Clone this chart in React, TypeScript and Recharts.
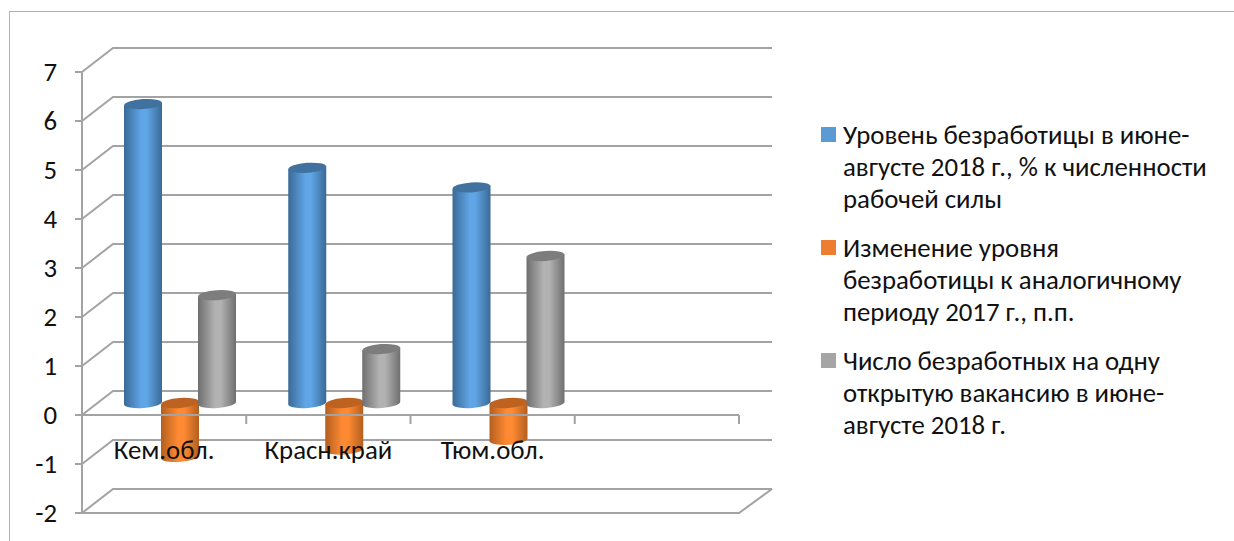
import React from "react";
import { ComposedChart, Bar, XAxis, YAxis, CartesianGrid, ReferenceLine, Legend } from "recharts";

const categories = ["Кем.обл.", "Красн.край", "Тюм.обл.", ""];
const unemployment = [6.1, 4.8, 4.4, null];
const change = [-1.1, -0.95, -0.75, null];
const perVacancy = [2.2, 1.1, 3.0, null];
const yTicks = [-2, -1, 0, 1, 2, 3, 4, 5, 6, 7];
const seriesNames = [
  "Уровень безработицы в июне-\nавгусте 2018 г., % к численности\nрабочей силы",
  "Изменение уровня\nбезработицы к аналогичному\nпериоду 2017 г., п.п.",
  "Число безработных на одну\nоткрытую вакансию в июне-\nавгусте 2018 г.",
];
const seriesColors = ["#5b9bd5", "#ed7d31", "#a5a5a5"];

const rows = categories.map((name, i) => ({
  name,
  unemployment: unemployment[i],
  change: change[i],
  perVacancy: perVacancy[i],
}));

const FONT = "Carlito, Calibri, Lato, 'Open Sans', sans-serif";
const LINE = "#a3a3a3";
const DEPTH_X = 31;
const DEPTH_Y = 24;
const gradients = [
  { id: "cylBlue", edge: "#3a6a96", mid: "#60a5e6", top: "#41729f" },
  { id: "cylOrange", edge: "#b35f1e", mid: "#ff8a33", top: "#bd6220" },
  { id: "cylGray", edge: "#6f6f6f", mid: "#b2b2b2", top: "#7d7d7d" },
];

function Cylinder(props: any) {
  const { x, y, width, height, seriesIndex } = props;
  if (!Number.isFinite(y) || !Number.isFinite(height) || height === 0) return null;
  const g = gradients[seriesIndex];
  const top = Math.min(y, y + height) - DEPTH_Y / 2;
  const bottom = Math.max(y, y + height) - DEPTH_Y / 2;
  const left = x + DEPTH_X / 2 - 0.5;
  const w = width + 1;
  const rx = w / 2;
  const ry = 5;
  const t = 1.5;
  const tilt = -4;
  const cx = left + rx;
  return (
    <g>
      <path
        d={`M${left},${top + t} L${left},${bottom + t} A${rx},${ry} ${tilt} 0 0 ${left + w},${bottom - t} L${left + w},${top - t} Z`}
        fill={`url(#${g.id})`}
      />
      <ellipse cx={cx} cy={top} rx={rx} ry={ry} fill={g.top} transform={`rotate(${tilt} ${cx} ${top})`} />
    </g>
  );
}

function GridLine(props: any) {
  const { x1, x2, y1, index } = props;
  return (
    <g stroke={LINE} strokeWidth={2} fill="none" key={index}>
      <path d={`M${x1},${y1} L${x1 + DEPTH_X},${y1 - DEPTH_Y} L${x2 + DEPTH_X + 2},${y1 - DEPTH_Y}`} />
      {y1 > 500 ? <path d={`M${x1},${y1} L${x2},${y1} L${x2 + DEPTH_X + 2},${y1 - DEPTH_Y}`} /> : null}
    </g>
  );
}

function ZeroAxis(props: any) {
  const { x1, x2, y1, y } = props;
  const left = x1 ?? props.viewBox?.x ?? 82;
  const right = x2 ?? left + (props.viewBox?.width ?? 657);
  const yy = y1 ?? y ?? props.viewBox?.y ?? 414;
  const step = (right - left) / categories.length;
  return (
    <g stroke={LINE} strokeWidth={2} fill="none">
      <path d={`M${left},${yy} L${right},${yy}`} />
      {categories.map((_, i) => (
        <path key={i} d={`M${left + step * (i + 1)},${yy} L${left + step * (i + 1)},${yy + 9}`} />
      ))}
    </g>
  );
}

function CategoryTick(props: any) {
  const { x, y, payload } = props;
  return (
    <text x={x} y={y - 62} textAnchor="middle" fontFamily={FONT} fontSize={26.8} fill="#111">
      {payload.value}
    </text>
  );
}

function YTick(props: any) {
  const { x, y, payload } = props;
  return (
    <text x={x} y={y + 9} textAnchor="end" fontFamily={FONT} fontSize={26.8} fill="#111">
      {payload.value}
    </text>
  );
}

function LegendBox() {
  return (
    <div style={{ fontFamily: FONT, fontSize: 26.8, color: "#111", lineHeight: "32px" }}>
      {seriesNames.map((name, i) => (
        <div key={i} style={{ position: "relative", paddingLeft: 22, marginBottom: i < 2 ? 17 : 0, whiteSpace: "nowrap" }}>
          <span
            style={{ position: "absolute", left: 0, top: 8, width: 15, height: 15, background: seriesColors[i] }}
          />
          {name.split("\n").map((l, j) => (
            <div key={j}>{l}</div>
          ))}
        </div>
      ))}
    </div>
  );
}

export default function App() {
  return (
    <div style={{ position: "fixed", left: 0, top: 0, width: 1234, height: 541, overflow: "hidden", background: "#fff" }}>
      <div
        style={{
          position: "absolute",
          left: 9,
          top: 11,
          width: 1240,
          height: 540,
          borderLeft: "1.5px solid #b0b0b0",
          borderTop: "1.5px solid #b0b0b0",
        }}
      />
      <div style={{ position: "absolute", left: 0, top: 0 }}>
        <ComposedChart
          width={1234}
          height={541}
          data={rows}
          margin={{ top: 72, right: 495, bottom: 0, left: 0 }}
          barSize={37}
          barGap={0}
        >
          <defs>
            {gradients.map((g) => (
              <linearGradient key={g.id} id={g.id} x1="0" y1="0" x2="1" y2="0">
                <stop offset="0" stopColor={g.edge} />
                <stop offset="0.45" stopColor={g.mid} />
                <stop offset="0.6" stopColor={g.mid} />
                <stop offset="1" stopColor={g.edge} />
              </linearGradient>
            ))}
          </defs>
          <CartesianGrid vertical={false} horizontal={(p: any) => <GridLine {...p} />} />
          <ReferenceLine y={0} shape={(p: any) => <ZeroAxis {...p} />} />
          <XAxis
            dataKey="name"
            height={28}
            axisLine={false}
            tickLine={false}
            interval={0}
            tick={(p: any) => <CategoryTick {...p} />}
          />
          <YAxis
            width={82}
            domain={[-2, 7]}
            ticks={yTicks}
            interval={0}
            tickSize={7}
            tickMargin={18}
            axisLine={{ stroke: LINE, strokeWidth: 2 }}
            tickLine={{ stroke: LINE, strokeWidth: 2 }}
            tick={(p: any) => <YTick {...p} />}
          />
          <Bar dataKey="unemployment" name={seriesNames[0]} fill={seriesColors[0]} isAnimationActive={false}
            shape={(p: any) => <Cylinder {...p} seriesIndex={0} />} />
          <Bar dataKey="change" name={seriesNames[1]} fill={seriesColors[1]} isAnimationActive={false}
            shape={(p: any) => <Cylinder {...p} seriesIndex={1} />} />
          <Bar dataKey="perVacancy" name={seriesNames[2]} fill={seriesColors[2]} isAnimationActive={false}
            shape={(p: any) => <Cylinder {...p} seriesIndex={2} />} />
          <Legend
            layout="horizontal"
            align="center"
            verticalAlign="middle"
            content={() => <LegendBox />}
            wrapperStyle={{ left: 821, top: 119, width: 400, height: 330 }}
          />
        </ComposedChart>
      </div>
    </div>
  );
}
